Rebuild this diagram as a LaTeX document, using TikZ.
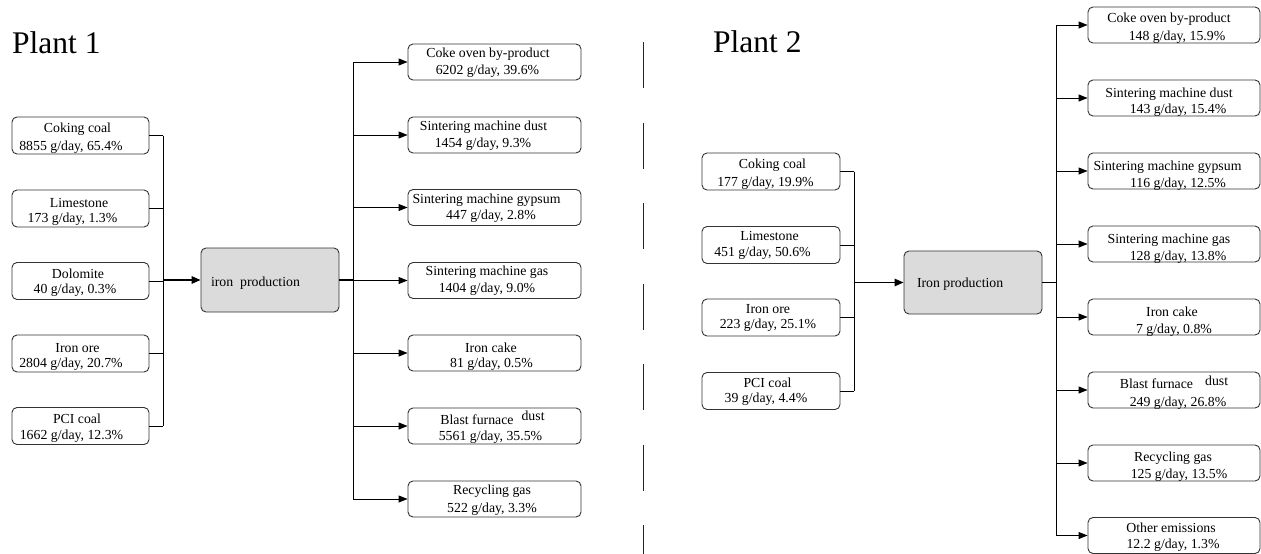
\documentclass[tikz,border=0pt]{standalone}
\usepackage{fontspec}
\setmainfont{Liberation Serif}
\usetikzlibrary{arrows.meta}
\def\myhh{18.5}
\newcommand{\tl}[3]{\makebox[0pt]{\hspace*{#1pt}\hspace*{#1pt}\raisebox{\dimexpr\myhh pt-#2pt\relax}[0pt][0pt]{#3}}}
\newcommand{\bxt}[6]{\tl{#1}{#2}{#3}\tl{#4}{#5}{#6}}
\newcommand{\ltx}[3]{\makebox[0pt][l]{\hspace*{#1pt}\raisebox{#2pt}[0pt][0pt]{#3}}}
\tikzset{
  boxtext/.style={font=\fontsize{13.8}{16}\selectfont},
  rbox/.style={boxtext, draw=black!80, line width=0.9pt, rounded corners=5pt, inner sep=0pt},
  inbox/.style={rbox, minimum width=137pt, minimum height=37pt},
  inboxb/.style={rbox, minimum width=138pt, minimum height=37pt},
  outbox/.style={rbox, minimum width=173pt, minimum height=36pt},
  outboxb/.style={rbox, minimum width=172pt, minimum height=36pt},
  prodbox/.style={rbox, fill=black!14, minimum width=138pt},
  conn/.style={line width=0.95pt, black},
  thick conn/.style={line width=1.4pt, black},
  arr/.style={conn, -{Triangle[length=9pt,width=7pt]}},
  mainarr/.style={thick conn, -{Triangle[length=9pt,width=7.5pt]}},
  title/.style={font=\fontsize{31.5}{36}\selectfont, inner sep=0pt, anchor=base west}
}
\begin{document}
\begin{tikzpicture}[x=1pt,y=-1pt]
\useasboundingbox (0,0) rectangle (1261,554);

% titles
\node[title] (t1) at (12,53) {Plant 1};
\node[title] (t2) at (713,52) {Plant 2};

% ---------------- Plant 1 ----------------
\def\myhh{18.5}
\node[inbox] (in1) at (80.5,135.5) {\bxt{-3}{15}{Coking coal}{-9.5}{33}{8855 g/day, 65.4\%}};
\node[inbox] (in2) at (80.5,208.5) {\bxt{-1.5}{17}{Limestone}{-8}{32}{173 g/day, 1.3\%}};
\node[inbox] (in3) at (80.5,281) {\bxt{-2.5}{16}{Dolomite}{-5.5}{31}{40 g/day, 0.3\%}};
\node[inbox] (in4) at (80.5,353.5) {\bxt{-3}{17}{Iron ore}{-9.5}{32}{2804 g/day, 20.7\%}};
\node[inbox] (in5) at (80.5,426) {\bxt{-3.5}{16}{PCI coal}{-9}{32}{1662 g/day, 12.3\%}};

\node[prodbox, minimum height=64pt] (prod1) at (270,280) {\ltx{-59}{-6}{iron\ \ production}};

\def\myhh{18}
\node[outbox] (o1) at (494.5,62) {\bxt{-6.5}{13}{Coke oven by-product}{-7}{30}{6202 g/day, 39.6\%}};
\node[outbox] (o2) at (494.5,135) {\bxt{-11}{13}{Sintering machine dust}{-11.5}{30}{1454 g/day, 9.3\%}};
\node[outbox] (o3) at (494.5,207.5) {\bxt{-8}{14}{Sintering machine gypsum}{-3.5}{30}{447 g/day, 2.8\%}};
\node[outbox] (o4) at (494.5,280.5) {\bxt{-7.5}{13}{Sintering machine gas}{-7.5}{30}{1404 g/day, 9.0\%}};
\node[outbox] (o5) at (494.5,353) {\bxt{-3.5}{17}{Iron cake}{-3}{32}{81 g/day, 0.5\%}};
\node[outbox] (o6) at (494.5,426) {\bxt{-2}{16}{Blast furnace\hspace{8pt}\raisebox{4pt}{dust}}{-4}{32}{5561 g/day, 35.5\%}};
\node[outbox] (o7) at (494.5,499) {\bxt{-2.5}{13}{Recycling gas}{-2.5}{31}{522 g/day, 3.3\%}};

\coordinate (bl1) at (163,0);
\coordinate (bo1) at (353,0);
\foreach \n in {in1,in2,in3,in4,in5}
  \draw[conn] (\n.east) -- (\n.east -| bl1);
\draw[conn] (in1.east -| bl1) -- (in5.east -| bl1);
\draw[mainarr] (prod1.west -| bl1) -- (prod1.west);
\draw[thick conn] (prod1.east) -- (prod1.east -| bo1);
\draw[conn] (o1.west -| bo1) -- (o7.west -| bo1);
\foreach \n in {o1,o2,o3,o4,o5,o6,o7}
  \draw[arr] (\n.west -| bo1) -- (\n.west);

% separator
\coordinate (d1) at (643.5,42);
\coordinate (d2) at (643.5,554);
\draw[line width=0.9pt, black!85, dash pattern=on 46pt off 34.5pt] (d1) -- (d2);

% ---------------- Plant 2 ----------------
\def\myhh{18.5}
\node[inboxb] (r1) at (771,171.5) {\bxt{1.5}{15}{Coking coal}{-5.5}{33}{177 g/day, 19.9\%}};
\node[inboxb] (r2) at (771,245) {\bxt{-1.5}{14}{Limestone}{-8.5}{30}{451 g/day, 50.6\%}};
\node[inboxb] (r3) at (771,317.5) {\bxt{-3}{14}{Iron ore}{-3}{29}{223 g/day, 25.1\%}};
\node[inboxb] (r4) at (771,391) {\bxt{-3.5}{15}{PCI coal}{-5}{30}{39 g/day, 4.4\%}};

\node[prodbox, minimum height=63pt] (prod2) at (973,282.5) {\ltx{-56}{-4.5}{Iron production}};

\def\myhh{18}
\node[outboxb] (s1) at (1174,25) {\bxt{-5}{16}{Coke oven by-product}{3}{33}{148 g/day, 15.9\%}};
\node[outboxb] (s2) at (1174,98) {\bxt{-5}{17}{Sintering machine dust}{4}{33}{143 g/day, 15.4\%}};
\node[outboxb] (s3) at (1174,171) {\bxt{-6.5}{17}{Sintering machine gypsum}{4}{34}{116 g/day, 12.5\%}};
\node[outboxb] (s4) at (1174,244) {\bxt{-5}{17}{Sintering machine gas}{4}{34}{128 g/day, 13.8\%}};
\node[outboxb] (s5) at (1174,317) {\bxt{-2}{17}{Iron cake}{0}{34}{7 g/day, 0.8\%}};
\node[outboxb] (s6) at (1174,390) {\bxt{0}{16}{Blast furnace\hspace{12pt}\raisebox{3pt}{dust}}{4}{34}{249 g/day, 26.8\%}};
\node[outboxb] (s7) at (1174,463) {\bxt{-1}{16}{Recycling gas}{5}{33}{125 g/day, 13.5\%}};
\node[outboxb] (s8) at (1174,535.5) {\bxt{-3}{15}{Other emissions}{-1}{31}{12.2 g/day, 1.3\%}};

\coordinate (bl2) at (854,0);
\coordinate (bo2) at (1056,0);
\foreach \n in {r1,r2,r3,r4}
  \draw[conn] (\n.east) -- (\n.east -| bl2);
\draw[conn] (r1.east -| bl2) -- (r4.east -| bl2);
\draw[mainarr] (prod2.west -| bl2) -- (prod2.west);
\draw[thick conn] (prod2.east) -- (prod2.east -| bo2);
\draw[conn] (s1.west -| bo2) -- (s8.west -| bo2);
\foreach \n in {s1,s2,s3,s4,s5,s6,s7,s8}
  \draw[arr] (\n.west -| bo2) -- (\n.west);
\end{tikzpicture}
\end{document}
